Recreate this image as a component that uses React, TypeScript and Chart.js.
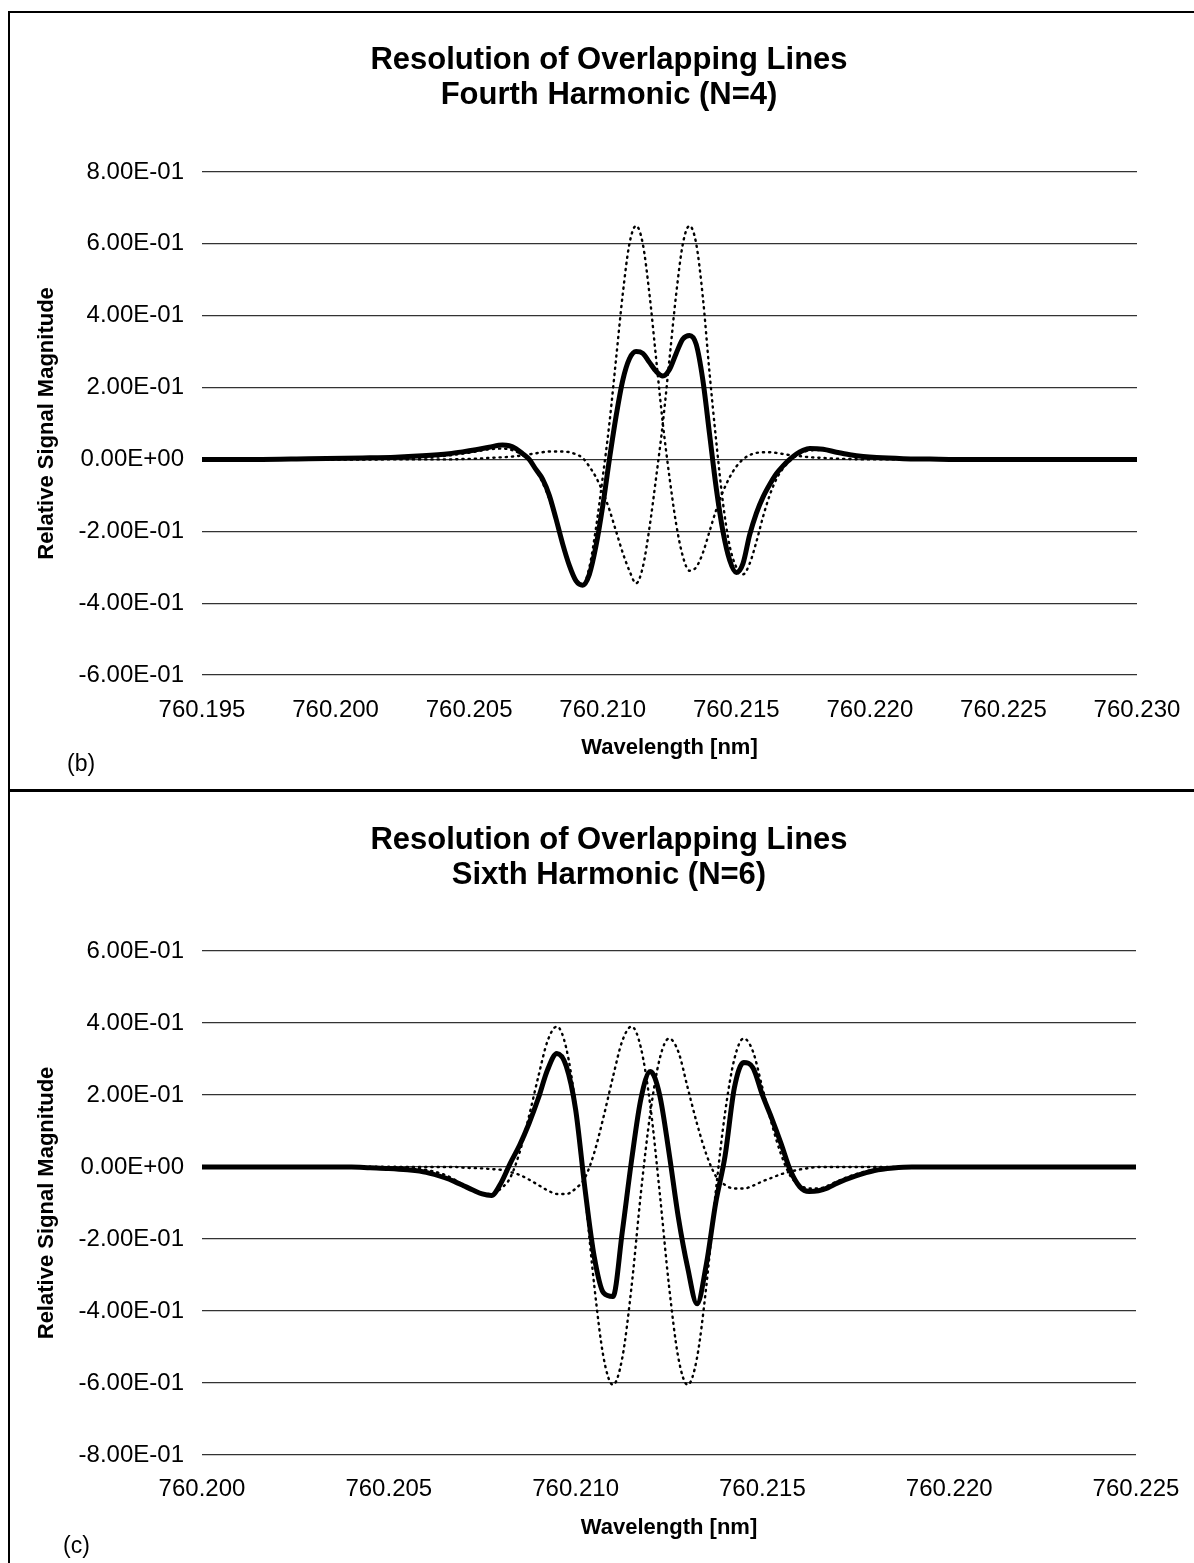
import React, { useEffect, useRef } from 'react';
import { Chart, registerables } from 'chart.js';

Chart.register(...registerables);

const FONT = "'Liberation Sans', Arial, Helvetica, sans-serif";

// ---------- (b) Fourth harmonic ----------
const topTitle = ['Resolution of Overlapping Lines', 'Fourth Harmonic (N=4)'];
const topWavelength = [
  760.195, 760.197, 760.199, 760.201, 760.20225, 760.20325, 760.20425, 760.20475, 760.20525, 760.20575,
  760.20625, 760.2065, 760.20675, 760.207, 760.20725, 760.2075, 760.20775, 760.208, 760.20825, 760.2085,
  760.20875, 760.209, 760.20925, 760.2095, 760.20975, 760.21, 760.21025, 760.2105, 760.21075, 760.211,
  760.21125, 760.2115, 760.21175, 760.212, 760.21225, 760.2125, 760.21275, 760.213, 760.21325, 760.2135,
  760.21375, 760.214, 760.21425, 760.2145, 760.21475, 760.215, 760.21525, 760.2155, 760.21575, 760.216,
  760.21625, 760.2165, 760.21675, 760.217, 760.21725, 760.2175, 760.21775, 760.21825, 760.21875, 760.21925,
  760.21975, 760.22025, 760.22125, 760.22225, 760.22325, 760.22525, 760.22725, 760.23,
];
const topMeasured = [
  0, 0, 0.002, 0.004, 0.006, 0.01, 0.016, 0.021, 0.027, 0.034,
  0.04, 0.038, 0.03, 0.016, 0.0, -0.028, -0.055, -0.1, -0.165, -0.235,
  -0.295, -0.338, -0.35, -0.32, -0.24, -0.13, 0.0, 0.12, 0.22, 0.28,
  0.3, 0.295, 0.27, 0.245, 0.232, 0.25, 0.295, 0.335, 0.345, 0.32,
  0.22, 0.07, -0.08, -0.2, -0.28, -0.315, -0.29, -0.21, -0.15, -0.105,
  -0.07, -0.04, -0.018, 0.0, 0.015, 0.025, 0.03, 0.028, 0.02, 0.013,
  0.008, 0.005, 0.002, 0.001, 0, 0, 0, 0,
];
const topLine1 = [
  0, 0, 0, 0, 0.002, 0.005, 0.011, 0.016, 0.022, 0.028,
  0.03, 0.028, 0.022, 0.012, -0.003, -0.03, -0.065, -0.11, -0.17, -0.235,
  -0.295, -0.335, -0.35, -0.3, -0.19, -0.05, 0.1, 0.28, 0.46, 0.6,
  0.65, 0.6, 0.46, 0.28, 0.1, -0.05, -0.18, -0.27, -0.31, -0.3,
  -0.26, -0.2, -0.14, -0.09, -0.05, -0.02, 0.0, 0.012, 0.018, 0.02,
  0.02, 0.018, 0.015, 0.012, 0.01, 0.008, 0.006, 0.004, 0.002, 0.001,
  0, 0, 0, 0, 0, 0, 0, 0,
];
const topLine2 = [
  0, 0, 0, 0, 0, 0, 0, 0.001, 0.002, 0.004,
  0.006, 0.007, 0.009, 0.011, 0.014, 0.017, 0.02, 0.022, 0.022, 0.022,
  0.02, 0.014, 0.004, -0.02, -0.05, -0.09, -0.14, -0.2, -0.26, -0.31,
  -0.345, -0.3, -0.19, -0.05, 0.1, 0.28, 0.46, 0.6, 0.65, 0.6,
  0.45, 0.24, 0.05, -0.12, -0.24, -0.3, -0.32, -0.29, -0.23, -0.16,
  -0.1, -0.055, -0.025, -0.005, 0.01, 0.02, 0.025, 0.026, 0.02, 0.014,
  0.009, 0.006, 0.003, 0.001, 0, 0, 0, 0,
];
const topXTicks = [760.195, 760.2, 760.205, 760.21, 760.215, 760.22, 760.225, 760.23];
const topXTickLabels = ['760.195', '760.200', '760.205', '760.210', '760.215', '760.220', '760.225', '760.230'];
const topYTicks = [-0.6, -0.4, -0.2, 0, 0.2, 0.4, 0.6, 0.8];
const topYTickLabels = ['-6.00E-01', '-4.00E-01', '-2.00E-01', '0.00E+00', '2.00E-01', '4.00E-01', '6.00E-01', '8.00E-01'];

// ---------- (c) Sixth harmonic ----------
const botTitle = ['Resolution of Overlapping Lines', 'Sixth Harmonic (N=6)'];
const botWavelength = [
  760.2, 760.201, 760.202, 760.203, 760.204, 760.2045, 760.205, 760.2055, 760.206,
  760.2065, 760.20675, 760.207, 760.20725, 760.2075, 760.20775, 760.208, 760.20825, 760.2085, 760.20875,
  760.209, 760.20925, 760.2095, 760.20975, 760.21, 760.21025, 760.2105, 760.21075, 760.211, 760.21125,
  760.2115, 760.21175, 760.212, 760.21225, 760.2125, 760.21275, 760.213, 760.21325, 760.2135, 760.21375,
  760.214, 760.21425, 760.2145, 760.21475, 760.215, 760.21525, 760.2155, 760.21575, 760.216, 760.21625,
  760.2165, 760.21675, 760.217,
  760.2175, 760.218, 760.2185, 760.219, 760.2195, 760.22, 760.221, 760.222, 760.223, 760.224, 760.225,
];
const botMeasured = [
  0, 0, 0, 0, 0, -0.002, -0.004, -0.008, -0.015,
  -0.03, -0.04, -0.052, -0.064, -0.075, -0.079, -0.045, 0.01, 0.06, 0.12,
  0.19, 0.27, 0.315, 0.28, 0.16, -0.06, -0.25, -0.35, -0.36, -0.18,
  0.02, 0.19, 0.265, 0.2, 0.04, -0.14, -0.28, -0.38, -0.27, -0.1,
  0.03, 0.22, 0.29, 0.275, 0.2, 0.135, 0.065, -0.01, -0.055, -0.068,
  -0.066, -0.058, -0.045,
  -0.025, -0.01, -0.003, 0, 0, 0, 0, 0, 0, 0, 0,
];
const botLine1 = [
  0, 0, 0, 0, 0, 0, 0, -0.002, -0.008,
  -0.022, -0.035, -0.05, -0.065, -0.075, -0.075, -0.06, -0.03, 0.04, 0.14,
  0.25, 0.35, 0.39, 0.33, 0.17, -0.07, -0.33, -0.53, -0.605, -0.53,
  -0.33, -0.07, 0.15, 0.3, 0.357, 0.32, 0.22, 0.12, 0.035, -0.025,
  -0.05, -0.06, -0.06, -0.052, -0.04, -0.03, -0.02, -0.013, -0.007, -0.003,
  0, 0, 0,
  0, 0, 0, 0, 0, 0, 0, 0, 0, 0, 0,
];
const botLine2 = [
  0, 0, 0, 0, 0, 0, 0, 0, 0,
  0, 0, -0.002, -0.003, -0.004, -0.006, -0.008, -0.014, -0.022, -0.035,
  -0.05, -0.065, -0.075, -0.075, -0.06, -0.03, 0.04, 0.14, 0.25, 0.35,
  0.39, 0.33, 0.17, -0.07, -0.33, -0.53, -0.605, -0.53, -0.33, -0.07,
  0.15, 0.3, 0.357, 0.32, 0.22, 0.12, 0.035, -0.025, -0.05, -0.06,
  -0.06, -0.052, -0.04,
  -0.02, -0.007, -0.002, 0, 0, 0, 0, 0, 0, 0, 0,
];
const botXTicks = [760.2, 760.205, 760.21, 760.215, 760.22, 760.225];
const botXTickLabels = ['760.200', '760.205', '760.210', '760.215', '760.220', '760.225'];
const botYTicks = [-0.8, -0.6, -0.4, -0.2, 0, 0.2, 0.4, 0.6];
const botYTickLabels = ['-8.00E-01', '-6.00E-01', '-4.00E-01', '-2.00E-01', '0.00E+00', '2.00E-01', '4.00E-01', '6.00E-01'];

const xTitle = 'Wavelength [nm]';
const yTitle = 'Relative Signal Magnitude';

type PanelProps = {
  left: number;
  top: number;
  width: number;
  height: number;
  title: string[];
  xs: number[];
  measured: number[];
  line1: number[];
  line2: number[];
  xTicks: number[];
  xTickLabels: string[];
  yTicks: number[];
  yTickLabels: string[];
  pad: { left: number; right: number; top: number; bottom: number };
  titlePad: { top: number; bottom: number };
  yWidth: number;
  rightWidth: number;
  xHeight: number;
  xTickLineHeight: number;
};

function pts(xs: number[], ys: number[]) {
  return xs.map((x, i) => ({ x, y: ys[i] }));
}

function Panel(p: PanelProps) {
  const ref = useRef<HTMLCanvasElement | null>(null);
  useEffect(() => {
    if (!ref.current) return;
    const dotted = {
      borderColor: '#000',
      borderWidth: 2.4,
      borderDash: [1.2, 5],
      borderCapStyle: 'round' as const,
      pointRadius: 0,
      fill: false,
      cubicInterpolationMode: 'monotone' as const,
    };
    const chart = new Chart(ref.current, {
      type: 'line',
      data: {
        datasets: [
          {
            label: 'Measured',
            data: pts(p.xs, p.measured),
            borderColor: '#000',
            borderWidth: 5,
            pointRadius: 0,
            fill: false,
            cubicInterpolationMode: 'monotone',
          },
          { label: 'Line 1', data: pts(p.xs, p.line1), ...dotted },
          { label: 'Line 2', data: pts(p.xs, p.line2), ...dotted },
        ],
      },
      options: {
        responsive: false,
        animation: false,
        devicePixelRatio: 1,
        layout: { padding: p.pad, autoPadding: false },
        plugins: {
          legend: { display: false },
          tooltip: { enabled: false },
          title: {
            display: true,
            text: p.title,
            color: '#000',
            font: { family: FONT, size: 31, weight: 'bold', lineHeight: 1.16 },
            padding: p.titlePad,
          },
        },
        scales: {
          x: {
            type: 'linear',
            min: p.xTicks[0],
            max: p.xTicks[p.xTicks.length - 1],
            afterBuildTicks: (s: any) => {
              s.ticks = p.xTicks.map((v) => ({ value: v }));
            },
            afterFit: (s: any) => {
              s.height = p.xHeight;
            },
            ticks: {
              autoSkip: false,
              maxRotation: 0,
              padding: 0,
              color: '#000',
              font: { family: FONT, size: 24, lineHeight: p.xTickLineHeight },
              callback: (_v: any, i: number) => p.xTickLabels[i],
            },
            grid: { display: false, drawTicks: false },
            border: { display: false },
            title: {
              display: true,
              text: xTitle,
              color: '#000',
              font: { family: FONT, size: 22, weight: 'bold', lineHeight: 1.2 },
              padding: 0,
            },
          },
          y: {
            type: 'linear',
            position: 'left',
            min: p.yTicks[0],
            max: p.yTicks[p.yTicks.length - 1],
            afterBuildTicks: (s: any) => {
              s.ticks = p.yTicks.map((v) => ({ value: v }));
            },
            afterFit: (s: any) => {
              s.width = p.yWidth;
            },
            ticks: {
              padding: 18,
              color: '#000',
              font: { family: FONT, size: 24 },
              callback: (_v: any, i: number) => p.yTickLabels[i],
            },
            grid: { color: '#333', lineWidth: 1.2, drawTicks: false },
            border: { display: false },
            title: {
              display: true,
              text: yTitle,
              color: '#000',
              font: { family: FONT, size: 22, weight: 'bold', lineHeight: 1.2 },
              padding: 0,
            },
          },
          yRight: {
            type: 'linear',
            position: 'right',
            min: 0,
            max: 1,
            afterFit: (s: any) => {
              s.width = p.rightWidth;
            },
            ticks: { display: false },
            grid: { display: false, drawTicks: false },
            border: { display: false },
          },
        },
      },
    } as any);
    return () => chart.destroy();
  }, []);
  return (
    <canvas
      ref={ref}
      width={p.width}
      height={p.height}
      style={{ position: 'absolute', left: p.left, top: p.top, width: p.width, height: p.height }}
    />
  );
}

const labelStyle: React.CSSProperties = {
  position: 'absolute',
  fontFamily: FONT,
  fontSize: 23,
  lineHeight: '26px',
  color: '#000',
};

export default function App() {
  return (
    <div style={{ position: 'absolute', left: 0, top: 0, width: 1194, height: 1563, overflow: 'hidden', background: '#fff' }}>
      <div
        style={{
          position: 'absolute',
          left: 8,
          top: 11,
          width: 1200,
          height: 1600,
          borderLeft: '2px solid #000',
          borderTop: '2px solid #000',
          boxSizing: 'border-box',
        }}
      />
      <div style={{ position: 'absolute', left: 8, top: 789, width: 1186, height: 3, background: '#000' }} />
      <Panel
        left={10}
        top={14}
        width={1182}
        height={774}
        title={topTitle}
        xs={topWavelength}
        measured={topMeasured}
        line1={topLine1}
        line2={topLine2}
        xTicks={topXTicks}
        xTickLabels={topXTickLabels}
        yTicks={topYTicks}
        yTickLabels={topYTickLabels}
        pad={{ left: 24, right: 8, top: 0, bottom: 26.8 }}
        titlePad={{ top: 28, bottom: 58 }}
        yWidth={168}
        rightWidth={47}
        xHeight={86.2}
        xTickLineHeight={2.92}
      />
      <div style={{ ...labelStyle, left: 67, top: 750 }}>(b)</div>
      <Panel
        left={10}
        top={792}
        width={1182}
        height={771}
        title={botTitle}
        xs={botWavelength}
        measured={botMeasured}
        line1={botLine1}
        line2={botLine2}
        xTicks={botXTicks}
        xTickLabels={botXTickLabels}
        yTicks={botYTicks}
        yTickLabels={botYTickLabels}
        pad={{ left: 24, right: 8, top: 0, bottom: 21.8 }}
        titlePad={{ top: 30, bottom: 57 }}
        yWidth={168}
        rightWidth={48}
        xHeight={86.2}
        xTickLineHeight={2.87}
      />
      <div style={{ ...labelStyle, left: 63, top: 1532 }}>(c)</div>
    </div>
  );
}
